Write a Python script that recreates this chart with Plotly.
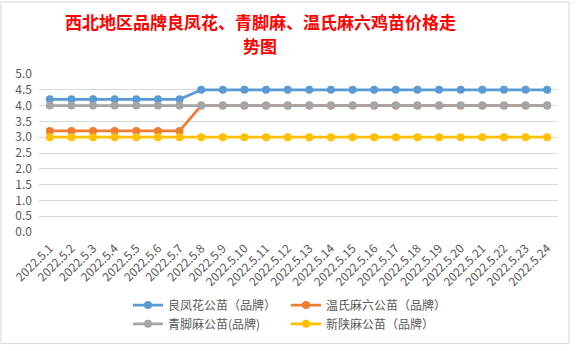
import plotly.graph_objects as go

dates = ["2022.5.%d" % d for d in range(1, 25)]
liangfenghua = [4.2] * 7 + [4.5] * 17
wenshi = [3.2] * 7 + [4.0] * 17
qingjiao = [4.0] * 24
xinshan = [3.0] * 24

title_lines = ["西北地区品牌良凤花、青脚麻、温氏麻六鸡苗价格走", "势图"]

series = [
    ("良凤花公苗（品牌）", liangfenghua, "#5B9BD5", "legend"),
    ("温氏麻六公苗（品牌）", wenshi, "#ED7D31", "legend"),
    ("青脚麻公苗(品牌)", qingjiao, "#A5A5A5", "legend2"),
    ("新陕麻公苗（品牌）", xinshan, "#FFC000", "legend2"),
]

fig = go.Figure()
for name, vals, color, lg in series:
    fig.add_trace(go.Scatter(
        x=dates, y=vals, name=name, mode="lines+markers",
        line=dict(color=color, width=2.75),
        marker=dict(color=color, size=8),
        legend=lg,
    ))

font_fam = "Noto Sans CJK SC, Noto Sans, sans-serif"
W, H = 577, 351
l, r, t, b = 39, 19, 74, 117
PW, PH = W - l - r, H - t - b


def px(x):
    return (x - l) / PW


def py(y):
    return (H - b - y) / PH


legend_common = dict(
    orientation="h", xanchor="left", yanchor="middle",
    font=dict(family=font_fam, size=12, color="#595959"),
    itemwidth=30, entrywidth=113, bgcolor="rgba(0,0,0,0)",
    traceorder="normal",
)

annotations = []
for i, (txt, yc) in enumerate(zip(title_lines, [21, 45])):
    annotations.append(dict(
        text=txt, xref="paper", yref="paper", x=px(260), y=py(yc),
        xanchor="center", yanchor="middle", showarrow=False,
        font=dict(family=font_fam, size=17, color="#FF0000", weight="bold"),
    ))

fig.update_layout(
    width=W, height=H,
    margin=dict(l=l, r=r, t=t, b=b),
    paper_bgcolor="white", plot_bgcolor="white",
    annotations=annotations,
    xaxis=dict(
        type="category", range=[-0.5, 23.5],
        tickangle=-45, tickfont=dict(family=font_fam, size=12, color="#595959"),
        showgrid=False, showline=False, ticks="", zeroline=False,
        ticklabelstandoff=6,
    ),
    yaxis=dict(
        range=[0, 5], dtick=0.5, tickformat=".1f",
        tickfont=dict(family=font_fam, size=12, color="#595959"),
        gridcolor="#D9D9D9", gridwidth=1, zeroline=False, showline=False,
        ticks="", ticklabelstandoff=6,
    ),
    legend=dict(x=px(128), y=py(308), **legend_common),
    legend2=dict(x=px(128), y=py(327), **legend_common),
    showlegend=True,
    shapes=[
        dict(type="rect", xref="paper", yref="paper",
             x0=px(1), x1=px(569), y0=py(347), y1=py(1),
             line=dict(color="#D9D9D9", width=1)),
    ],
)

fig.write_html("out.html")
